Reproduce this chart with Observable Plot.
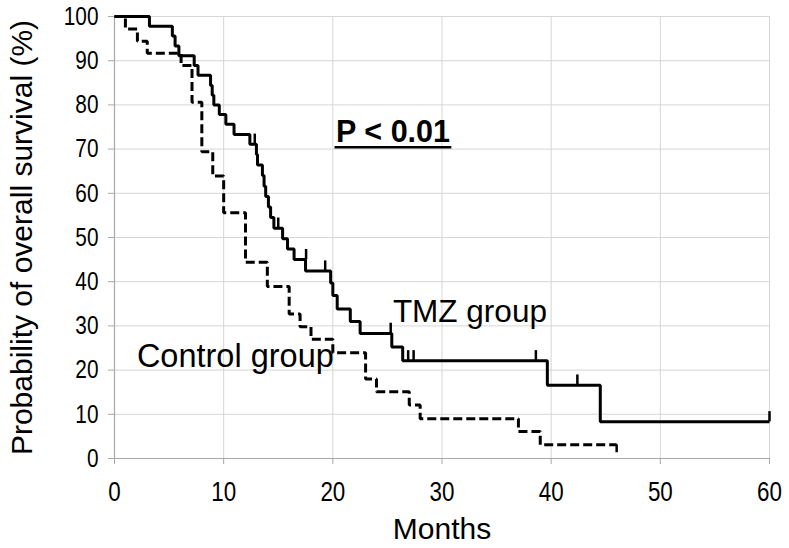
<!DOCTYPE html>
<html><head><meta charset="utf-8">
<script src="https://cdn.jsdelivr.net/npm/d3@7"></script>
<script src="https://cdn.jsdelivr.net/npm/@observablehq/plot@0.6"></script>
<style>body{margin:0;background:#fff} svg{display:block}</style>
</head><body><div id="chart"></div>
<script>
// TMZ group (solid) Kaplan–Meier steps
const tmzTime = [0, 3.2, 5.3, 5.55, 5.9, 7.3, 7.65, 8.8, 8.95, 9.1, 9.6, 10.2, 10.95, 12.4, 13.0, 13.1, 13.55, 13.7, 13.85, 14.1, 14.3, 14.6, 15.4, 15.85, 16.45, 17.5, 19.8, 20.0, 20.4, 21.6, 22.5, 25.4, 26.4, 39.65, 44.5, 60];
const tmzSurv = [100, 97.8, 95.6, 93.3, 91.1, 88.9, 86.7, 84.4, 82.2, 80.0, 77.8, 75.6, 73.3, 71.1, 68.8, 66.4, 64.0, 61.6, 59.3, 56.9, 54.5, 52.1, 49.7, 47.4, 45.0, 42.4, 39.7, 36.9, 33.8, 31.0, 28.3, 25.2, 22.1, 16.6, 8.3, 8.3];
const tmzCensTime = [12.85, 15.0, 17.55, 19.3, 25.3, 26.9, 27.4, 38.6, 42.4, 60];
const tmzCensSurv = [71.1, 52.1, 45.0, 42.4, 28.3, 22.1, 22.1, 22.1, 16.6, 8.3];
// Control group (dashed)
const ctlTime = [0, 1.0, 2.1, 3.0, 6.1, 7.1, 8.0, 9.0, 10.0, 12.0, 14.0, 16.0, 17.0, 18.0, 20.0, 23.0, 24.0, 27.0, 28.0, 37.0, 39.0, 46.0];
const ctlSurv = [100, 97.2, 94.4, 91.7, 88.9, 80.6, 69.4, 63.9, 55.6, 44.4, 38.9, 32.7, 29.8, 27.0, 23.9, 18.0, 15.1, 12.1, 9.0, 6.1, 3.1, 3.1];
const ctlCensTime = [46];
const ctlCensSurv = [3.1];
// axes
const xTicks = [0, 10, 20, 30, 40, 50, 60];
const yTicks = [0, 10, 20, 30, 40, 50, 60, 70, 80, 90, 100];
const xTitle = "Months";
const yTitle = "Probability of overall survival (%)";
const seriesLabels = ["TMZ group", "Control group"];
const pText = "P < 0.01";

const tmz = tmzTime.map((t, i) => ({t, s: tmzSurv[i]}));
const ctl = ctlTime.map((t, i) => ({t, s: ctlSurv[i]}));
const tmzC = tmzCensTime.map((t, i) => ({t, s: tmzCensSurv[i]}));
const ctlC = ctlCensTime.map((t, i) => ({t, s: ctlCensSurv[i]}));

const font = "'Liberation Sans', Arial, sans-serif";

const chart = Plot.plot({
  width: 789, height: 548,
  marginLeft: 114, marginRight: 20, marginTop: 16, marginBottom: 90,
  style: {fontFamily: font, background: "#fff", color: "#000"},
  x: {domain: [0, 60]},
  y: {domain: [0, 100]},
  marks: [
    Plot.gridX(xTicks, {stroke: "#d6d6d6", strokeOpacity: 1, strokeWidth: 1}),
    Plot.gridY(yTicks, {stroke: "#d6d6d6", strokeOpacity: 1, strokeWidth: 1}),
    Plot.ruleX([0], {stroke: "#a8a8a8", strokeWidth: 1.2}),
    Plot.ruleY([0], {stroke: "#a8a8a8", strokeWidth: 1.2}),
    Plot.axisX(xTicks, {className: "ticklab", tickSize: 6, stroke: "#a8a8a8", fill: "#000", fontSize: 28, tickPadding: 17, label: null}),
    Plot.axisY(yTicks, {className: "ticklab", tickSize: 6, stroke: "#a8a8a8", fill: "#000", fontSize: 26, tickPadding: 10, label: null}),
    Plot.line(ctl, {x: "t", y: "s", curve: "step-after", stroke: "#000", strokeWidth: 3, strokeDasharray: "9,4", strokeLinejoin: "miter", strokeLinecap: "butt"}),
    Plot.line(tmz, {x: "t", y: "s", curve: "step-after", stroke: "#000", strokeWidth: 3, strokeLinejoin: "miter", strokeLinecap: "butt"}),
    Plot.ruleX(tmzC, {x: "t", y1: "s", y2: d => d.s + 2.3, stroke: "#000", strokeWidth: 2.5}),
    Plot.ruleX(ctlC, {x: "t", y1: d => d.s - 1.8, y2: "s", stroke: "#000", strokeWidth: 2.5}),
    Plot.text([pText], {x: 20.3, y: 71.7, text: d => d, textAnchor: "start", lineAnchor: "bottom", fontSize: 30.5, fontWeight: "bold", fill: "#000"}),
    Plot.ruleY([70.4], {x1: 20.2, x2: 30.9, stroke: "#000", strokeWidth: 2.5}),
    Plot.text([seriesLabels[0]], {x: 25.5, y: 30.9, text: d => d, textAnchor: "start", lineAnchor: "bottom", fontSize: 31.5, fill: "#000"}),
    Plot.text([seriesLabels[1]], {x: 2.05, y: 20.6, text: d => d, textAnchor: "start", lineAnchor: "bottom", fontSize: 32.5, fill: "#000"}),
    Plot.text([yTitle], {frameAnchor: "left", dx: -92, rotate: -90, text: d => d, textAnchor: "middle", lineAnchor: "middle", fontSize: 30, fill: "#000"}),
    Plot.text([xTitle], {frameAnchor: "bottom", dy: 80, text: d => d, textAnchor: "middle", lineAnchor: "bottom", fontSize: 30, fill: "#000"})
  ]
});
// condense tick labels horizontally (reference uses a narrow face)
chart.querySelectorAll(".ticklab text").forEach(el => {
  const tr = el.getAttribute("transform") || "";
  el.setAttribute("transform", tr + " scale(0.8,1)");
});
document.getElementById("chart").appendChild(chart);
</script>
</body></html>
